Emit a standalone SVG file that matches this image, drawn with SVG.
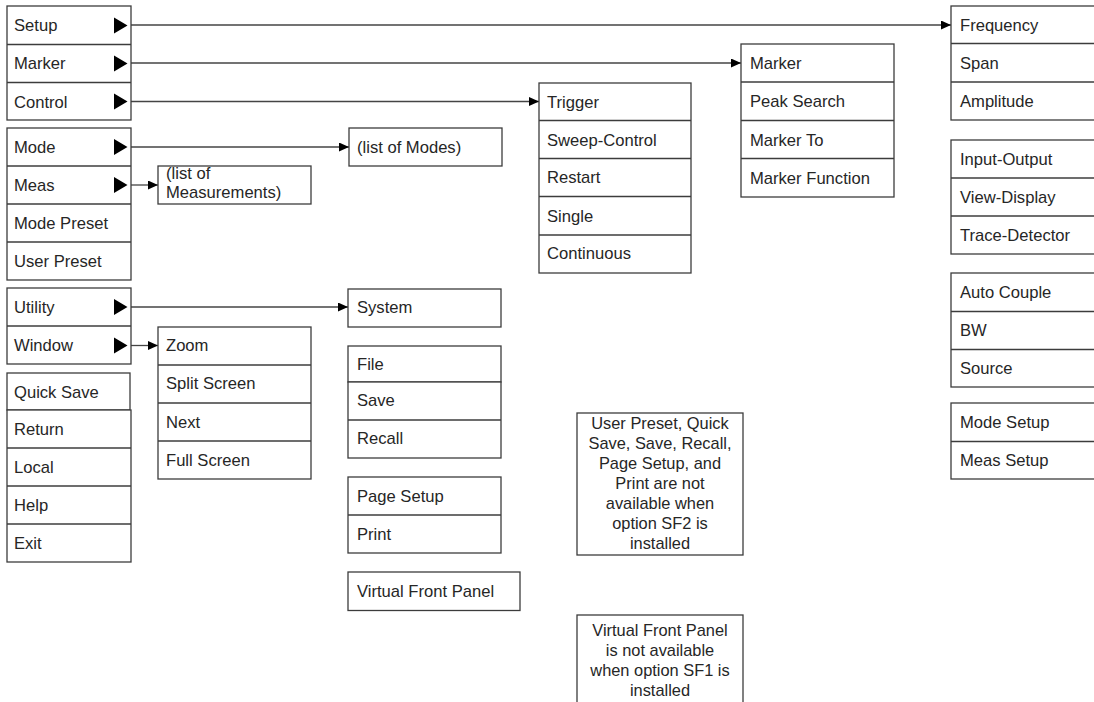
<svg xmlns="http://www.w3.org/2000/svg" width="1094" height="702" viewBox="0 0 1094 702">
<defs>
<style>
.box{fill:#fff;stroke:#3c3c3c;stroke-width:1.3}
.div{stroke:#3c3c3c;stroke-width:1.3}
.t{font-family:"Liberation Sans",Arial,sans-serif;font-size:16.6px;fill:#262626}
.n{font-family:"Liberation Sans",Arial,sans-serif;font-size:16.4px;fill:#262626;text-anchor:middle}
.tri{fill:#000}
.con{stroke:#444;stroke-width:1.3;fill:none;marker-end:url(#ah)}
</style>
<marker id="ah" markerUnits="userSpaceOnUse" markerWidth="11" markerHeight="10" refX="10" refY="4.5" orient="auto">
<path d="M0,0 L10,4.5 L0,9 Z" fill="#000"/>
</marker>
</defs>
<rect width="1094" height="702" fill="#fff"/>

<g id="connectors">
<line class="con" x1="131" y1="25" x2="951" y2="25"/>
<line class="con" x1="131" y1="63" x2="741" y2="63"/>
<line class="con" x1="131" y1="101.5" x2="539" y2="101.5"/>
<line class="con" x1="131" y1="147" x2="349" y2="147"/>
<line class="con" x1="131" y1="185" x2="158" y2="185"/>
<line class="con" x1="131" y1="307" x2="348" y2="307"/>
<line class="con" x1="131" y1="345.5" x2="158" y2="345.5"/>
</g>

<g id="setup-menu">
<rect class="box" x="7" y="6" width="124" height="114"/>
<line class="div" x1="7" y1="44.5" x2="131" y2="44.5"/>
<line class="div" x1="7" y1="82.5" x2="131" y2="82.5"/>
<text class="t" x="14" y="31">Setup</text>
<text class="t" x="14" y="69">Marker</text>
<text class="t" x="14" y="107.5">Control</text>
<path class="tri" d="M114,17.5 L127.5,25.5 L114,33.5 Z"/>
<path class="tri" d="M114,55.5 L127.5,63.5 L114,71.5 Z"/>
<path class="tri" d="M114,93.5 L127.5,101.5 L114,109.5 Z"/>
</g>

<g id="mode-menu">
<rect class="box" x="7" y="128" width="124" height="152"/>
<line class="div" x1="7" y1="166" x2="131" y2="166"/>
<line class="div" x1="7" y1="204" x2="131" y2="204"/>
<line class="div" x1="7" y1="242" x2="131" y2="242"/>
<text class="t" x="14" y="153">Mode</text>
<text class="t" x="14" y="191">Meas</text>
<text class="t" x="14" y="229">Mode Preset</text>
<text class="t" x="14" y="267">User Preset</text>
<path class="tri" d="M114,139 L127.5,147 L114,155 Z"/>
<path class="tri" d="M114,177 L127.5,185 L114,193 Z"/>
</g>

<g id="utility-menu">
<rect class="box" x="7" y="288" width="124" height="76"/>
<line class="div" x1="7" y1="326" x2="131" y2="326"/>
<text class="t" x="14" y="313">Utility</text>
<text class="t" x="14" y="351">Window</text>
<path class="tri" d="M114,299 L127.5,307 L114,315 Z"/>
<path class="tri" d="M114,337.5 L127.5,345.5 L114,353.5 Z"/>
</g>

<g id="quick-save">
<rect class="box" x="7" y="373" width="123" height="37"/>
<text class="t" x="14" y="397.5">Quick Save</text>
</g>

<g id="return-menu">
<rect class="box" x="7" y="410" width="124" height="152"/>
<line class="div" x1="7" y1="448" x2="131" y2="448"/>
<line class="div" x1="7" y1="486" x2="131" y2="486"/>
<line class="div" x1="7" y1="524" x2="131" y2="524"/>
<text class="t" x="14" y="435">Return</text>
<text class="t" x="14" y="473">Local</text>
<text class="t" x="14" y="511">Help</text>
<text class="t" x="14" y="549">Exit</text>
</g>

<g id="meas-list">
<rect class="box" x="158" y="166" width="153" height="38"/>
<text class="t" x="166" y="179">(list of</text>
<text class="t" x="166" y="198">Measurements)</text>
</g>

<g id="window-menu">
<rect class="box" x="158" y="327" width="153" height="152"/>
<line class="div" x1="158" y1="365" x2="311" y2="365"/>
<line class="div" x1="158" y1="403" x2="311" y2="403"/>
<line class="div" x1="158" y1="441" x2="311" y2="441"/>
<text class="t" x="166" y="351">Zoom</text>
<text class="t" x="166" y="389">Split Screen</text>
<text class="t" x="166" y="427.5">Next</text>
<text class="t" x="166" y="465.5">Full Screen</text>
</g>

<g id="modes-list">
<rect class="box" x="349" y="128" width="153" height="38"/>
<text class="t" x="357" y="153">(list of Modes)</text>
</g>

<g id="system">
<rect class="box" x="348" y="289" width="153" height="38"/>
<text class="t" x="357" y="313">System</text>
</g>

<g id="file">
<rect class="box" x="348" y="346" width="153" height="36"/>
<text class="t" x="357" y="370">File</text>
</g>

<g id="save-recall">
<rect class="box" x="348" y="382" width="153" height="76"/>
<line class="div" x1="348" y1="420" x2="501" y2="420"/>
<text class="t" x="357" y="406">Save</text>
<text class="t" x="357" y="444">Recall</text>
</g>

<g id="page-setup">
<rect class="box" x="348" y="477" width="153" height="76"/>
<line class="div" x1="348" y1="515" x2="501" y2="515"/>
<text class="t" x="357" y="502">Page Setup</text>
<text class="t" x="357" y="540">Print</text>
</g>

<g id="virtual-front-panel">
<rect class="box" x="348" y="572" width="172" height="38.5"/>
<text class="t" x="357" y="597">Virtual Front Panel</text>
</g>

<g id="control-menu">
<rect class="box" x="539" y="83" width="152" height="190"/>
<line class="div" x1="539" y1="120.5" x2="691" y2="120.5"/>
<line class="div" x1="539" y1="158.5" x2="691" y2="158.5"/>
<line class="div" x1="539" y1="196.5" x2="691" y2="196.5"/>
<line class="div" x1="539" y1="235" x2="691" y2="235"/>
<text class="t" x="547" y="107.5">Trigger</text>
<text class="t" x="547" y="145.5">Sweep-Control</text>
<text class="t" x="547" y="183">Restart</text>
<text class="t" x="547" y="221.5">Single</text>
<text class="t" x="547" y="259">Continuous</text>
</g>

<g id="marker-menu">
<rect class="box" x="741" y="44" width="153" height="153"/>
<line class="div" x1="741" y1="82" x2="894" y2="82"/>
<line class="div" x1="741" y1="120.5" x2="894" y2="120.5"/>
<line class="div" x1="741" y1="158.5" x2="894" y2="158.5"/>
<text class="t" x="750" y="69">Marker</text>
<text class="t" x="750" y="107">Peak Search</text>
<text class="t" x="750" y="145.5">Marker To</text>
<text class="t" x="750" y="183.5">Marker Function</text>
</g>

<g id="frequency-menu">
<rect class="box" x="951" y="6" width="160" height="114"/>
<line class="div" x1="951" y1="43.5" x2="1111" y2="43.5"/>
<line class="div" x1="951" y1="82" x2="1111" y2="82"/>
<text class="t" x="960" y="31">Frequency</text>
<text class="t" x="960" y="69">Span</text>
<text class="t" x="960" y="107">Amplitude</text>
</g>

<g id="io-menu">
<rect class="box" x="951" y="140" width="160" height="114"/>
<line class="div" x1="951" y1="178" x2="1111" y2="178"/>
<line class="div" x1="951" y1="216" x2="1111" y2="216"/>
<text class="t" x="960" y="164.5">Input-Output</text>
<text class="t" x="960" y="202.5">View-Display</text>
<text class="t" x="960" y="241">Trace-Detector</text>
</g>

<g id="couple-menu">
<rect class="box" x="951" y="273" width="160" height="114"/>
<line class="div" x1="951" y1="311.5" x2="1111" y2="311.5"/>
<line class="div" x1="951" y1="349.5" x2="1111" y2="349.5"/>
<text class="t" x="960" y="297.5">Auto Couple</text>
<text class="t" x="960" y="336">BW</text>
<text class="t" x="960" y="373.5">Source</text>
</g>

<g id="setup-menu-2">
<rect class="box" x="951" y="403" width="160" height="76"/>
<line class="div" x1="951" y1="441.5" x2="1111" y2="441.5"/>
<text class="t" x="960" y="428">Mode Setup</text>
<text class="t" x="960" y="466">Meas Setup</text>
</g>

<g id="note-sf2">
<rect class="box" x="577" y="413" width="166" height="142"/>
<text class="n" x="660" y="429">User Preset, Quick</text>
<text class="n" x="660" y="449">Save, Save, Recall,</text>
<text class="n" x="660" y="469">Page Setup, and</text>
<text class="n" x="660" y="489">Print are not</text>
<text class="n" x="660" y="509">available when</text>
<text class="n" x="660" y="529">option SF2 is</text>
<text class="n" x="660" y="549">installed</text>
</g>

<g id="note-sf1">
<rect class="box" x="577" y="615" width="166" height="100"/>
<text class="n" x="660" y="636">Virtual Front Panel</text>
<text class="n" x="660" y="656">is not available</text>
<text class="n" x="660" y="676">when option SF1 is</text>
<text class="n" x="660" y="696">installed</text>
</g>
</svg>
